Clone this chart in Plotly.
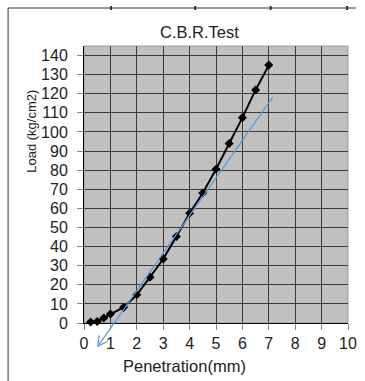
import math
import plotly.graph_objects as go

penetration = [0.25, 0.5, 0.75, 1.0, 1.5, 2.0, 2.5, 3.0, 3.5, 4.0, 4.5, 5.0, 5.5, 6.0, 6.5, 7.0]
load = [0.5, 0.8, 2.6, 4.7, 8.2, 14.8, 24, 33.5, 45.3, 57.5, 68, 80.5, 94, 107.5, 122, 135]
tangent_x = [7.15, 0.52]
tangent_y = [118.2, -12.2]
x_ticks = list(range(0, 11))
y_ticks = list(range(0, 141, 10))
x_range = [0, 10]
y_range = [0, 145]

W, H = 365, 381
L, R, T, B = 84, 8, 46, 58
pw, ph = W - L - R, H - T - B

def px(x):
    return (x - L) / pw

def py(y):
    return (H - B - y) / ph

# data -> paper (through the axis ranges), so the tangent is not clipped by the plot area
def dx(v):
    return (v - x_range[0]) / (x_range[1] - x_range[0])

def dy(v):
    return (v - y_range[0]) / (y_range[1] - y_range[0])

FONT = "Liberation Sans, Arial, sans-serif"
BLUE = "#5B9BD5"

fig = go.Figure()
fig.add_trace(go.Scatter(x=penetration, y=load, mode="lines+markers",
                         line=dict(color="black", width=2),
                         marker=dict(symbol="diamond", size=7, color="black"),
                         cliponaxis=False, showlegend=False))

shapes = [
    dict(type="rect", xref="paper", yref="paper", x0=0, x1=1, y0=0, y1=1,
         line=dict(color="#9a9a9a", width=1), layer="below"),
    dict(type="line", xref="paper", yref="paper", x0=px(5.5), x1=px(365), y0=py(8), y1=py(8),
         line=dict(color="#333", width=1)),
    dict(type="line", xref="paper", yref="paper", x0=px(5.5), x1=px(5.5), y0=py(8), y1=py(381),
         line=dict(color="#333", width=1)),
] + [
    dict(type="line", xref="paper", yref="paper", x0=px(t), x1=px(t), y0=py(6), y1=py(10),
         line=dict(color="#333", width=2)) for t in [112, 199, 277, 356]
]

# tangent line
hx, hy = dx(tangent_x[1]), dy(tangent_y[1])
tx, ty = dx(tangent_x[0]), dy(tangent_y[0])
shapes.append(dict(type="line", xref="paper", yref="paper", x0=tx, y0=ty, x1=hx, y1=hy,
                   line=dict(color=BLUE, width=1.2), layer="above"))
# open V arrow head at the lower end
ang = math.atan2((ty - hy) * ph, (tx - hx) * pw)
for da in (math.radians(28), -math.radians(28)):
    a = ang + da
    shapes.append(dict(type="line", xref="paper", yref="paper", x0=hx, y0=hy,
                       x1=hx + 11 * math.cos(a) / pw, y1=hy + 11 * math.sin(a) / ph,
                       line=dict(color=BLUE, width=1.2), layer="above"))

annotations = [
    dict(text="C.B.R.Test", xref="paper", yref="paper", x=px(203.5), y=py(32),
         showarrow=False, font=dict(size=16.5), xanchor="center", yanchor="middle"),
    dict(text="Penetration(mm)", xref="paper", yref="paper", x=px(187.5), y=py(366),
         showarrow=False, font=dict(size=16.5), xanchor="center", yanchor="middle"),
    dict(text="Load (kg/cm2)", xref="paper", yref="paper", x=px(29), y=py(131),
         showarrow=False, textangle=-90, font=dict(size=13), xanchor="center", yanchor="middle"),
]

fig.update_layout(
    width=W, height=H,
    margin=dict(l=L, r=R, t=T, b=B),
    paper_bgcolor="white", plot_bgcolor="#C0C0C0",
    font=dict(family=FONT, color="#222", size=16),
    xaxis=dict(range=x_range, tickvals=x_ticks, showgrid=True, gridcolor="#3a3a3a", gridwidth=1,
               zeroline=False, showline=True, linecolor="black", linewidth=1,
               ticks="outside", ticklen=6, tickcolor="#888", tickfont=dict(size=16),
               ticklabeloverflow="allow", fixedrange=True),
    yaxis=dict(range=y_range, tickvals=y_ticks, showgrid=True, gridcolor="#3a3a3a", gridwidth=1,
               zeroline=False, showline=True, linecolor="black", linewidth=1,
               ticks="outside", ticklen=6, tickcolor="#888", tickfont=dict(size=16),
               ticklabelstandoff=6, ticklabeloverflow="allow", fixedrange=True),
    shapes=shapes,
    annotations=annotations,
)

fig.write_html("out.html")
